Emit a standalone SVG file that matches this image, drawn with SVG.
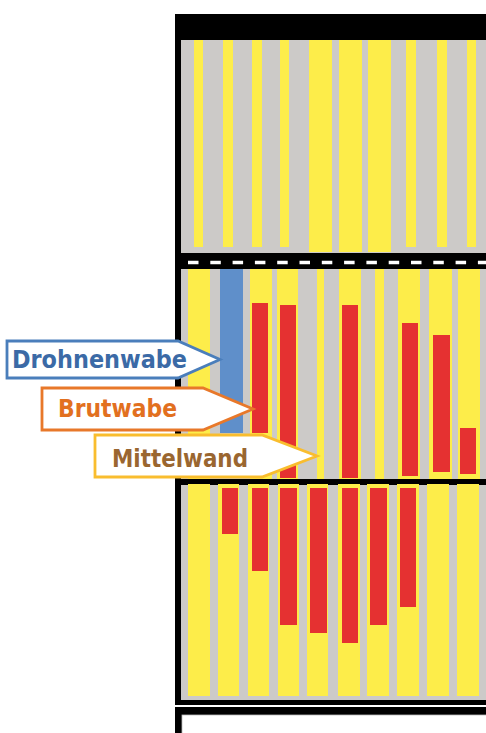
<svg xmlns="http://www.w3.org/2000/svg" width="486" height="733" viewBox="0 0 486 733">
  <style>
    .cell{fill:#cccac8}
    .comb{fill:#fded4a}
    .brood{fill:#e53131}
    .drone{fill:#5f8fca}
    .lbl{fill:#fff;stroke-width:2.8;stroke-linejoin:miter}
    .txt{font-family:"DejaVu Sans","Liberation Sans",sans-serif;font-weight:bold;font-size:24px}
  </style>
  <rect width="486" height="733" fill="#fff"/>

  <!-- hive body: black frame with three boxes -->
  <g id="frame">
    <rect x="175" y="14" width="320" height="691" fill="#000"/>
    <rect x="175" y="707" width="320" height="40" fill="#000"/>
    <rect x="182" y="715" width="310" height="30" fill="#fff" stroke="#bbb" stroke-width="0.8"/>
  </g>

  <!-- upper box: empty foundation frames -->
  <g id="upper-box">
    <rect x="181" y="40" width="310" height="213" class="cell"/>
    <rect x="194" y="40" width="9" height="207" class="comb"/>
    <rect x="223" y="40" width="10" height="207" class="comb"/>
    <rect x="252" y="40" width="10" height="207" class="comb"/>
    <rect x="280" y="40" width="9" height="207" class="comb"/>
    <rect x="309" y="40" width="23" height="212" class="comb"/>
    <rect x="339" y="40" width="23" height="212" class="comb"/>
    <rect x="368" y="40" width="23" height="212" class="comb"/>
    <rect x="406" y="40" width="10" height="207" class="comb"/>
    <rect x="437" y="40" width="10" height="207" class="comb"/>
    <rect x="467" y="40" width="9" height="207" class="comb"/>
  </g>

  <!-- queen excluder -->
  <g id="excluder">
    <line x1="188" y1="262.5" x2="491" y2="262.5" stroke="#fff" stroke-width="3.5" stroke-dasharray="10.5 11.8"/>
  </g>

  <!-- middle box -->
  <g id="middle-box">
    <rect x="181" y="269" width="310" height="210" class="cell"/>
    <rect x="188" y="269" width="22" height="210" class="comb"/>
    <rect x="220" y="269" width="23" height="164" class="drone"/>
    <rect x="250" y="269" width="22" height="210" class="comb"/>
    <rect x="277" y="269" width="21" height="210" class="comb"/>
    <rect x="317" y="269" width="7" height="210" class="comb"/>
    <rect x="339" y="269" width="22" height="210" class="comb"/>
    <rect x="375" y="269" width="9" height="210" class="comb"/>
    <rect x="398" y="269" width="22" height="210" class="comb"/>
    <rect x="429" y="269" width="23" height="210" class="comb"/>
    <rect x="458" y="269" width="22" height="210" class="comb"/>
    <rect x="252" y="303" width="16" height="130" class="brood"/>
    <rect x="280" y="305" width="16" height="173" class="brood"/>
    <rect x="342" y="305" width="16" height="173" class="brood"/>
    <rect x="402" y="323" width="16" height="153" class="brood"/>
    <rect x="433" y="335" width="17" height="137" class="brood"/>
    <rect x="460" y="428" width="16" height="46" class="brood"/>
  </g>

  <!-- lower box -->
  <g id="lower-box">
    <rect x="181" y="485" width="310" height="215" class="cell"/>
    <rect x="188" y="484" width="22" height="212" class="comb"/>
    <rect x="218" y="484" width="21" height="212" class="comb"/>
    <rect x="248" y="484" width="21" height="212" class="comb"/>
    <rect x="278" y="484" width="21" height="212" class="comb"/>
    <rect x="307" y="484" width="21" height="212" class="comb"/>
    <rect x="338" y="484" width="22" height="212" class="comb"/>
    <rect x="367" y="484" width="22" height="212" class="comb"/>
    <rect x="397" y="484" width="22" height="212" class="comb"/>
    <rect x="427" y="484" width="22" height="212" class="comb"/>
    <rect x="457" y="484" width="22" height="212" class="comb"/>
    <rect x="222" y="488" width="16" height="46" class="brood"/>
    <rect x="252" y="488" width="16" height="83" class="brood"/>
    <rect x="280" y="488" width="17" height="137" class="brood"/>
    <rect x="310" y="488" width="17" height="145" class="brood"/>
    <rect x="342" y="488" width="16" height="155" class="brood"/>
    <rect x="370" y="488" width="17" height="137" class="brood"/>
    <rect x="400" y="488" width="16" height="119" class="brood"/>
  </g>

  <!-- callout labels -->
  <g id="label-drohnenwabe">
    <polygon class="lbl" stroke="#4a7ebb" points="7,341 178,341 220,359.5 178,378 7,378"/>
    <text class="txt" x="12" y="368" fill="#3b6aa6" textLength="175" lengthAdjust="spacingAndGlyphs">Drohnenwabe</text>
  </g>
  <g id="label-brutwabe">
    <polygon class="lbl" stroke="#e8782a" points="42,388 203,388 253,409 203,430 42,430"/>
    <text class="txt" x="58" y="417" fill="#e2701f" textLength="119" lengthAdjust="spacingAndGlyphs">Brutwabe</text>
  </g>
  <g id="label-mittelwand">
    <polygon class="lbl" stroke="#f9bd2e" points="95,435 262,435 317,456 262,477 95,477"/>
    <text class="txt" x="112" y="467" fill="#9a6630" textLength="136" lengthAdjust="spacingAndGlyphs">Mittelwand</text>
  </g>
</svg>
